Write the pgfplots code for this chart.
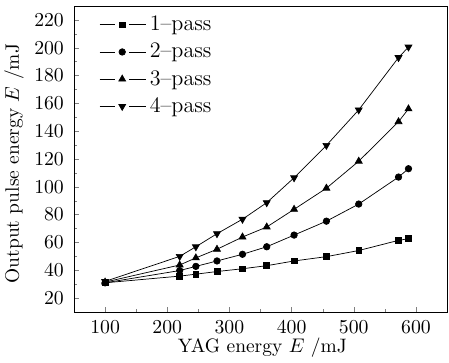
\documentclass[border=0pt]{standalone}
\usepackage{pgfplots}
\pgfplotsset{compat=1.18}
\begin{document}
\begin{tikzpicture}
\begin{axis}[
  name=ax,
  scale only axis,
  width=207.2pt, height=170pt,
  xmin=50, xmax=650, ymin=10, ymax=230,
  xtick={100,200,...,600}, ytick={20,40,...,220},
  minor x tick num=1, minor y tick num=1,
  tick align=inside,
  xtick pos=bottom, ytick pos=left,
  major tick length=3pt, minor tick length=1.8pt,
  tick label style={font=\fontsize{11.1}{13}\selectfont},
  xticklabel style={yshift=-1.6pt},
  yticklabel style={xshift=-2.1pt},
  xlabel={YAG energy $E$ /mJ},
  ylabel={Output pulse energy $E$ /mJ},
  xlabel style={font=\fontsize{10.8}{12}\selectfont, at={(axis description cs:0.505,-0.132)}, anchor=base, inner sep=0pt},
  ylabel style={font=\fontsize{10.8}{12}\selectfont, at={(axis description cs:-0.134,0.485)}, anchor=south, inner sep=0pt},
  legend style={draw=none, fill=none, at={(axis description cs:0.067,0.968)}, anchor=north west,
    inner sep=0pt, row sep=5.4pt, column sep=2pt, nodes={inner sep=0pt},
    font=\fontsize{12.3}{14}\selectfont},
  legend cell align=left,
  legend image code/.code={
    \draw[#1, mark=none] (0pt,0pt) -- (8.6pt,0pt);
    \draw[#1, mark=none] (16.4pt,0pt) -- (25.6pt,0pt);
    \draw[#1, only marks] plot coordinates {(12.5pt,0pt)};
  },
  every axis plot/.append style={black, line width=0.4pt, mark size=1.8pt},
]
\addplot[mark=square*, mark size=1.6pt] coordinates {
(100,31) (220,35.8) (246,37.2) (280,39.1) (321,41.1) (360,43.3) (404,46.7) (456,49.8) (508,54.2) (572,61.5) (588,62.7)};
\addlegendentry{1--pass}
\addplot[mark=*] coordinates {
(100,31) (220,39.8) (246,42.8) (280,46.7) (321,51.5) (360,56.9) (404,65.3) (456,75.3) (508,87.6) (572,107) (588,113)};
\addlegendentry{2--pass}
\addplot[mark=triangle*, mark size=2.2pt] coordinates {
(100,31.5) (220,43.8) (246,48.9) (280,55.1) (321,63.9) (360,71.1) (404,83.8) (456,99) (508,118.4) (572,146.8) (588,156)};
\addlegendentry{3--pass}
\addplot[mark=triangle*, mark options={rotate=180}, mark size=2.2pt] coordinates {
(100,32) (220,50) (246,56.9) (280,66.3) (321,76.7) (360,88.6) (404,106.5) (456,129.8) (508,155.3) (572,192.9) (588,200.5)};
\addlegendentry{4--pass}
\end{axis}
\pgfresetboundingbox
\useasboundingbox ([xshift=-41.1pt,yshift=-28.3pt]ax.south west) rectangle ([xshift=1.1pt,yshift=3.3pt]ax.north east);
\end{tikzpicture}
\end{document}
